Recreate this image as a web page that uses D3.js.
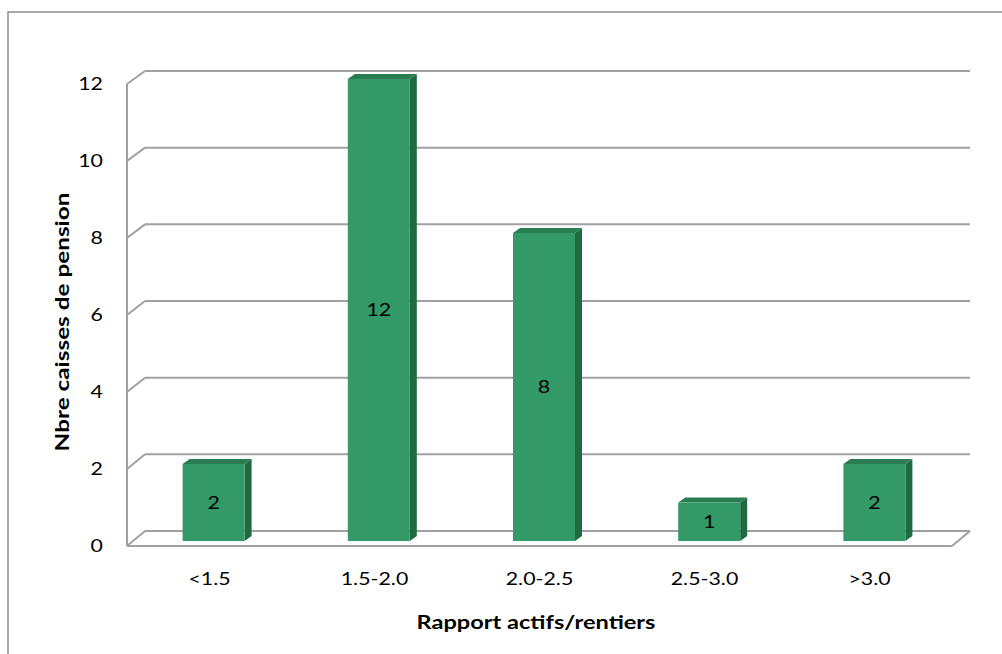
<!DOCTYPE html>
<html><head><meta charset="utf-8">
<script src="https://cdn.jsdelivr.net/npm/d3@7"></script>
<style>body{margin:0;background:#fff;} svg{display:block;font-family:Lato,"Open Sans",sans-serif;}</style>
</head><body>
<svg id="c" width="1002" height="654"></svg>
<script>
const categories = ["<1.5","1.5-2.0","2.0-2.5","2.5-3.0",">3.0"];
const values = [2,12,8,1,2];
const yTicks = [0,2,4,6,8,10,12];
const yTitle = "Nbre caisses de pension";
const xTitle = "Rapport actifs/rentiers";

const svg = d3.select("#c");
const grid = "#a0a0a0";
const k = 1.22;

// outer frame
svg.append("rect").attr("x",8).attr("y",12).attr("width",1100).attr("height",800)
  .attr("fill","none").attr("stroke","#8c8c8c").attr("stroke-width",1.5);

// scales
const yFront = d3.scaleLinear().domain([0,12]).range([546,84]);
const yBack  = d3.scaleLinear().domain([0,12]).range([531,71]);
const yBar   = d3.scaleLinear().domain([0,12]).range([541,79]);
const xFront = d3.scalePoint().domain(categories).range([127,952]).padding(0.5);
const xBar   = d3.scalePoint().domain(categories).range([131,957]).padding(0.5);
const dxW = 18, bw = 62, sdx = 7, sdy = 5;

const g = svg.append("g");
yTicks.forEach(v=>{
  g.append("line").attr("x1",145).attr("x2",970).attr("y1",yBack(v)).attr("y2",yBack(v))
    .attr("stroke",grid).attr("stroke-width",2);
  g.append("line").attr("x1",127).attr("x2",127+dxW).attr("y1",yFront(v)).attr("y2",yBack(v))
    .attr("stroke",grid).attr("stroke-width",2);
});
g.append("line").attr("x1",127).attr("x2",127).attr("y1",yFront(12)).attr("y2",yFront(0))
  .attr("stroke",grid).attr("stroke-width",2);
g.append("line").attr("x1",127).attr("x2",952).attr("y1",yFront(0)).attr("y2",yFront(0))
  .attr("stroke",grid).attr("stroke-width",2);
g.append("line").attr("x1",952).attr("x2",970).attr("y1",yFront(0)).attr("y2",yBack(0))
  .attr("stroke",grid).attr("stroke-width",2);

// bars
const bars = svg.append("g").selectAll("g").data(categories).join("g");
bars.each(function(c,i){
  const s = d3.select(this);
  const x0 = xBar(c)-bw/2, x1 = xBar(c)+bw/2;
  const yt = yBar(values[i]), yb = yBar(0);
  s.append("path").attr("d",`M${x1},${yt}L${x1+sdx},${yt-sdy}L${x1+sdx},${yb-sdy}L${x1},${yb}Z`).attr("fill","#1f6a43");
  s.append("path").attr("d",`M${x0},${yt}L${x0+sdx},${yt-sdy}L${x1+sdx},${yt-sdy}L${x1},${yt}Z`).attr("fill","#2a7d52");
  s.append("rect").attr("x",x0).attr("y",yt).attr("width",bw).attr("height",yb-yt).attr("fill","#339966");
  s.append("text").attr("transform",`translate(${(x0+x1)/2},${(yt+yb)/2}) scale(${k},1)`).attr("dy","0.35em")
    .attr("text-anchor","middle").attr("font-size",17.5).attr("fill","#000").text(values[i]);
});

// y tick labels
svg.append("g").selectAll("text").data(yTicks).join("text")
  .attr("transform",d=>`translate(103,${yFront(d)}) scale(${k},1)`).attr("dy","0.35em").attr("text-anchor","end")
  .attr("font-size",17.5).attr("fill","#000").text(d=>d);

// x category labels
svg.append("g").selectAll("text").data(categories).join("text")
  .attr("transform",d=>`translate(${xFront(d)},585) scale(${k},1)`).attr("text-anchor","middle")
  .attr("font-size",17.5).attr("fill","#000").text(d=>d);

// titles
svg.append("text").attr("transform",`translate(536,629) scale(1.24,1)`).attr("text-anchor","middle")
  .attr("font-size",19).attr("font-weight","bold").text(xTitle);
svg.append("text").attr("transform","translate(69,322) rotate(-90) scale(1.28,1)").attr("text-anchor","middle")
  .attr("font-size",19).attr("font-weight","bold").text(yTitle);
</script>
</body></html>
